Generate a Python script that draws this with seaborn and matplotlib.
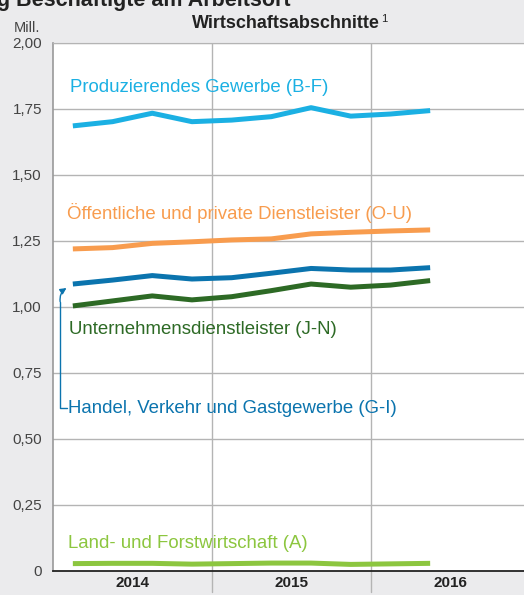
import numpy as np
import pandas as pd
import matplotlib.pyplot as plt
import seaborn as sns

# Quarterly employment by sector (Mill.), 2014 Q1 - 2016 Q2
quarters = ["2014 Q1", "2014 Q2", "2014 Q3", "2014 Q4",
            "2015 Q1", "2015 Q2", "2015 Q3", "2015 Q4",
            "2016 Q1", "2016 Q2"]
produzierendes = [1.686, 1.702, 1.734, 1.702, 1.708, 1.721, 1.755, 1.723, 1.731, 1.744]
oeffentliche = [1.220, 1.225, 1.241, 1.247, 1.254, 1.258, 1.277, 1.283, 1.288, 1.292]
handel = [1.087, 1.102, 1.119, 1.106, 1.111, 1.128, 1.146, 1.140, 1.140, 1.149]
unternehmens = [1.004, 1.023, 1.042, 1.027, 1.039, 1.062, 1.087, 1.075, 1.083, 1.100]
land = [0.028, 0.029, 0.029, 0.026, 0.028, 0.030, 0.030, 0.025, 0.027, 0.029]

sector_names = [
    "Produzierendes Gewerbe (B-F)",
    "Öffentliche und private Dienstleister (O-U)",
    "Handel, Verkehr und Gastgewerbe (G-I)",
    "Unternehmensdienstleister (J-N)",
    "Land- und Forstwirtschaft (A)",
]
sector_colors = ["#1bb0e3", "#f89c4e", "#0b74ae", "#2d6a25", "#8cc63f"]
year_labels = ["2014", "2015", "2016"]
y_ticks = [0, 0.25, 0.5, 0.75, 1.0, 1.25, 1.5, 1.75, 2.0]

series = [produzierendes, oeffentliche, handel, unternehmens, land]
x_pos = np.arange(len(quarters)) + 0.5
df = pd.concat([
    pd.DataFrame({"x": x_pos, "value": vals, "sector": name})
    for name, vals in zip(sector_names, series)
])

sns.set_style("white")
plt.rcParams["font.family"] = ["Liberation Sans", "DejaVu Sans"]

bg = "#ebebed"
fig = plt.figure(figsize=(5.24, 5.95), dpi=100, facecolor=bg)
ax = fig.add_axes([53 / 524, 24 / 595, 1 - 53 / 524, (571 - 43) / 595])
ax.set_facecolor("white")

sns.lineplot(data=df, x="x", y="value", hue="sector", palette=sector_colors,
             linewidth=3.6, legend=False, ax=ax, solid_capstyle="butt")

ax.set_xlim(0, 471 / 39.7)
ax.set_ylim(0, 2.0)
ax.set_xlabel("")
ax.set_ylabel("")

# horizontal grid
for y in y_ticks[1:]:
    ax.axhline(y, color="#b4b4b4", linewidth=1.0, zorder=0)
ax.set_yticks(y_ticks)
ax.set_yticklabels(["0"] + [f"{v:.2f}".replace(".", ",") for v in y_ticks[1:]],
                   fontsize=11, color="#444444")
ax.tick_params(axis="y", length=0, pad=8)

# quarter ticks inside, year separators
ax.set_xticks([q for q in range(1, 12) if q % 4 != 0])
ax.set_xticklabels([])
ax.tick_params(axis="x", direction="in", length=6, color="#b4b4b4", width=1)
for q in (4, 8):
    ax.axvline(q, color="#b4b4b4", linewidth=1.0, zorder=0)
    ax.plot([q, q], [0, -0.08], color="#b4b4b4", linewidth=1.0, clip_on=False)
for i, yl in enumerate(year_labels):
    ax.text(4 * i + 2, -0.047, yl, ha="center", va="center", fontsize=11,
            fontweight="bold", color="#222222")

ax.spines["right"].set_visible(False)
ax.spines["top"].set_color("#b4b4b4")
ax.spines["left"].set_color("#999999")
ax.spines["left"].set_linewidth(1.2)
ax.spines["bottom"].set_color("#222222")
ax.spines["bottom"].set_linewidth(1.3)

# series labels
label_pos = [(0.43, 1.83), (0.35, 1.356), (0.38, 0.617), (0.40, 0.913), (0.38, 0.106)]
for name, col, (lx, ly) in zip(sector_names, sector_colors, label_pos):
    ax.text(lx, ly, name, color=col, fontsize=13.4, ha="left", va="center")

# connector for Handel label
ax.plot([0.18, 0.18, 0.36], [1.02, 0.617, 0.617], color=sector_colors[2], linewidth=1.0)
ax.annotate("", xy=(0.34, 1.072), xytext=(0.18, 1.02),
            arrowprops=dict(arrowstyle="-|>", color=sector_colors[2], lw=1.0,
                            connectionstyle="arc3,rad=-0.3", mutation_scale=9,
                            shrinkA=0, shrinkB=0))

fig.text(-0.006, 1 - 6 / 595, "g Beschäftigte am Arbeitsort", fontsize=15.5,
         fontweight="bold", color="#222222", ha="left", va="baseline")
fig.text(380 / 524, 1 - 28 / 595, "Wirtschaftsabschnitte", fontsize=13,
         fontweight="bold", color="#222222", ha="right", va="baseline")
fig.text(381 / 524, 1 - 22 / 595, "1", fontsize=8, color="#222222",
         ha="left", va="baseline")
fig.text(14 / 524, 1 - 28 / 595, "Mill.", fontsize=10.5, color="#444444",
         ha="left", va="center")

fig.savefig("out.png", dpi=100, facecolor=bg)
